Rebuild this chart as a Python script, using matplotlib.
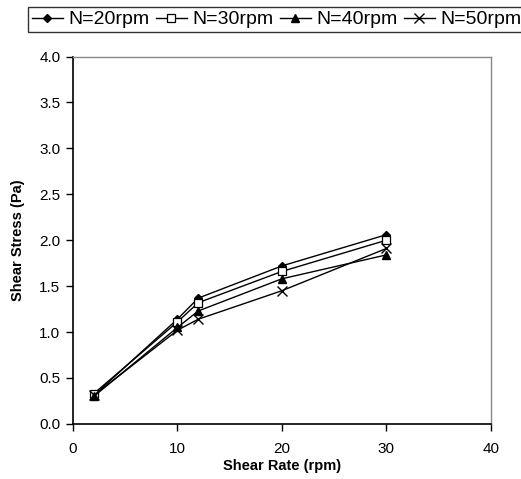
import matplotlib
matplotlib.use("Agg")
import matplotlib.pyplot as plt
from matplotlib.ticker import FormatStrFormatter

plt.rcParams['font.family'] = ['Liberation Sans', 'DejaVu Sans']

shear_rate = [2, 10, 12, 20, 30]
series_labels = ["N=20rpm", "N=30rpm", "N=40rpm", "N=50rpm"]
n20 = [0.31, 1.14, 1.37, 1.72, 2.06]
n30 = [0.33, 1.11, 1.32, 1.66, 2.00]
n40 = [0.30, 1.05, 1.23, 1.58, 1.84]
n50 = [0.31, 1.02, 1.14, 1.45, 1.91]
x_ticks = [0, 10, 20, 30, 40]
y_ticks = [0.0, 0.5, 1.0, 1.5, 2.0, 2.5, 3.0, 3.5, 4.0]

fig = plt.figure(figsize=(5.21, 4.79), dpi=100)
ax = fig.add_axes([0.140, 0.115, 0.802, 0.767])

styles = [
    dict(marker='D', markersize=4, mfc='black', mec='black'),
    dict(marker='s', markersize=5.5, mfc='white', mec='black', mew=0.9),
    dict(marker='^', markersize=6, mfc='black', mec='black'),
    dict(marker='x', markersize=6.5, mfc='black', mec='black', mew=1.0),
]
handles = []
for vals, lab, st in zip([n20, n30, n40, n50], series_labels, styles):
    h, = ax.plot(shear_rate, vals, color='black', lw=1.0, label=lab, **st)
    handles.append(h)

ax.set_xlim(0, 40)
ax.set_ylim(0, 4.0)
ax.set_xticks(x_ticks)
ax.set_yticks(y_ticks)
ax.yaxis.set_major_formatter(FormatStrFormatter('%.1f'))
ax.tick_params(axis='both', direction='out', length=5, width=1, labelsize=11, colors='black', pad=4)
ax.tick_params(axis='x', pad=8)
for s in ['left', 'bottom']:
    ax.spines[s].set_color('black')
    ax.spines[s].set_linewidth(1.2)
for s in ['top', 'right']:
    ax.spines[s].set_color('#888888')
    ax.spines[s].set_linewidth(1.0)

ax.set_xlabel("Shear Rate (rpm)", fontsize=10.5, fontweight='bold', labelpad=2)
ax.set_ylabel("Shear Stress (Pa)", fontsize=10.5, fontweight='bold', labelpad=10)

leg = fig.legend(handles=handles, labels=series_labels, loc='upper left',
                 bbox_to_anchor=(28/521, 1 - 7/479), ncol=4, fontsize=14,
                 frameon=True, fancybox=False, handlelength=1.6, handletextpad=0.3,
                 columnspacing=0.3, borderpad=0.2, borderaxespad=0)
leg.get_frame().set_edgecolor('black')
leg.get_frame().set_linewidth(1.0)

fig.savefig("out.png", dpi=100)
